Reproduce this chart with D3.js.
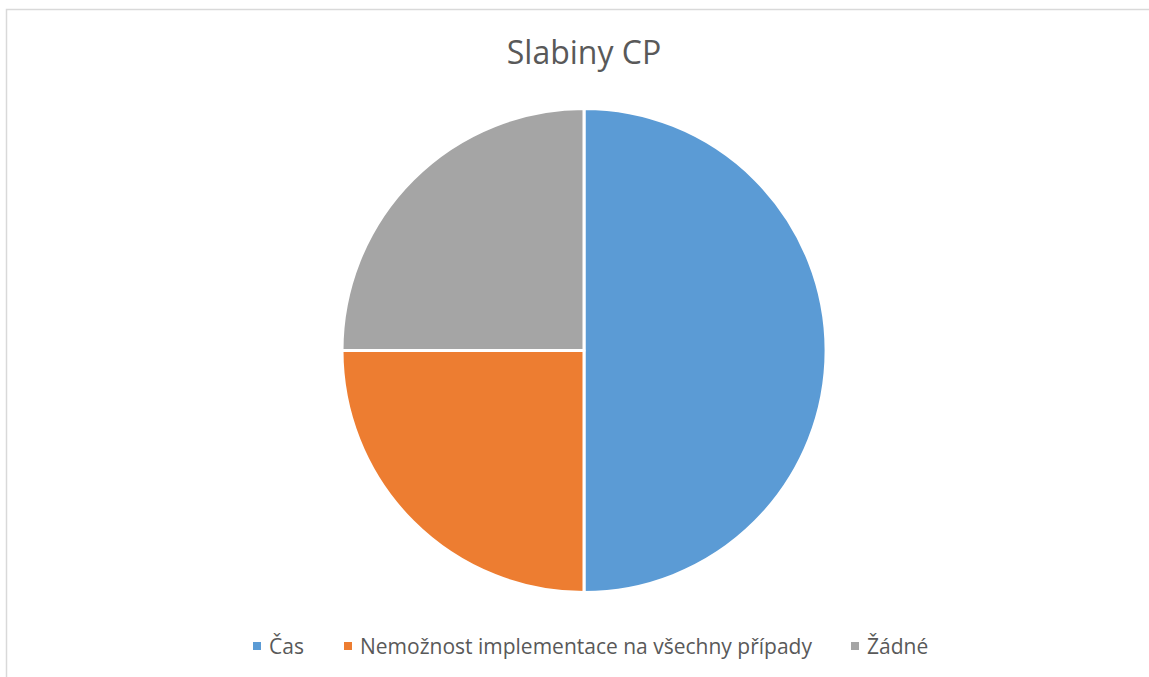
<!DOCTYPE html>
<html><head><meta charset="utf-8">
<script src="https://cdn.jsdelivr.net/npm/d3@7"></script>
<style>body{margin:0;background:#fff}svg{display:block}</style>
</head><body>
<svg id="c" width="1149" height="677"></svg>
<script>
const categories = ["Čas", "Nemožnost implementace na všechny případy", "Žádné"];
const values = [50, 25, 25];
const colors = ["#5b9bd5", "#ed7d31", "#a5a5a5"];
const title = "Slabiny CP";

const svg = d3.select("#c");
const font = "'Open Sans', sans-serif";

svg.append("rect").attr("x", 6.5).attr("y", 9.5).attr("width", 1200).attr("height", 800)
  .attr("fill", "#fff").attr("stroke", "#d9d9d9").attr("stroke-width", 1.5);

svg.append("text").attr("x", 584).attr("y", 64).attr("text-anchor", "middle")
  .attr("font-family", font).attr("font-size", 32).attr("fill", "#595959").text(title);

const cx = 584, cy = 350.5, r = 242;
const pie = d3.pie().sort(null).value(d => d)(values);
const arc = d3.arc().innerRadius(0).outerRadius(r);
const g = svg.append("g").attr("transform", `translate(${cx},${cy})`);
g.selectAll("path").data(pie).join("path")
  .attr("d", arc).attr("fill", (d, i) => colors[i])
  .attr("stroke", "#fff").attr("stroke-width", 3).attr("stroke-linejoin", "round");

// legend
const lx = [253, 344, 851];
const lg = svg.append("g");
categories.forEach((c, i) => {
  lg.append("rect").attr("x", lx[i]).attr("y", 642).attr("width", 8).attr("height", 8).attr("fill", colors[i]);
  lg.append("text").attr("x", lx[i] + 16).attr("y", 653.5).attr("font-family", font)
    .attr("font-size", 21).attr("fill", "#595959").text(c);
});
</script>
</body></html>
